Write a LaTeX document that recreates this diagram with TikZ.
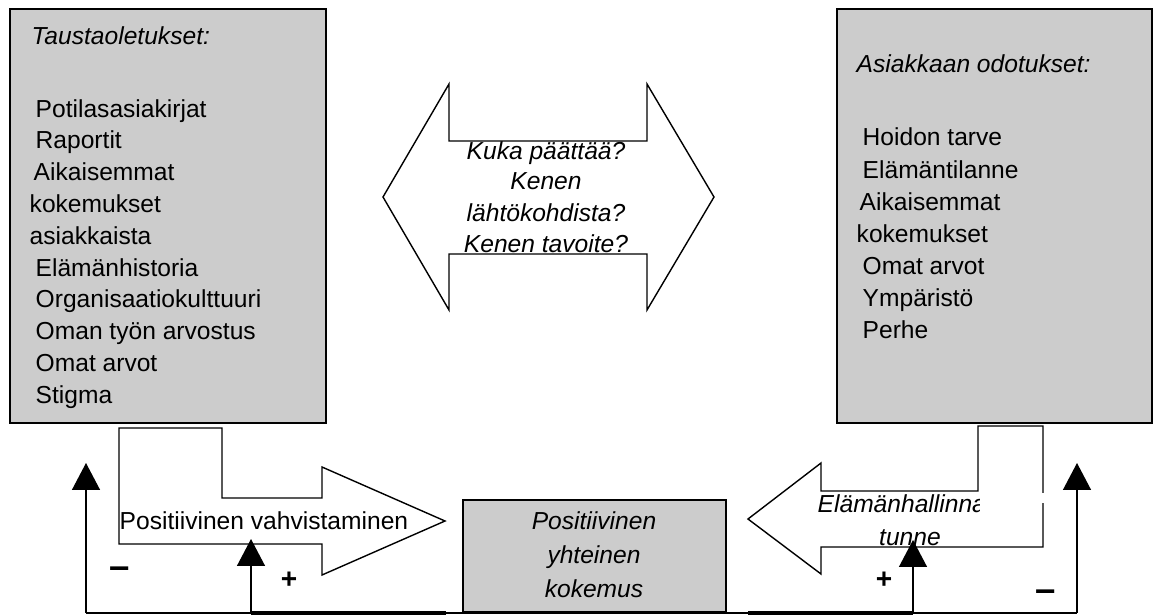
\documentclass[tikz,border=0pt]{standalone}
\usepackage{fontspec}
\setmainfont{Liberation Sans}
\usepackage{tikz}
\usetikzlibrary{arrows.meta}
\definecolor{boxgray}{RGB}{204,204,204}
\newcommand{\fbarrow}[2]{
    \draw[fbline, -{Triangle[length=0.54cm, width=0.56cm]}] (#1) -- (#2);
}

\begin{document}
\begin{tikzpicture}[x=0.02cm, y=-0.02cm, line width=0.8pt,
        txt/.style={inner sep=0pt, anchor=base west, font=\fontsize{14}{17}\selectfont},
        ctxt/.style={txt, anchor=base},
        itx/.style={txt, font=\fontsize{14}{17}\selectfont\itshape},
        citx/.style={itx, anchor=base},
        graybox/.style={draw=black, fill=boxgray},
        bigarrow/.style={draw=black, fill=white, line join=miter},
        fbline/.style={draw=black, line width=0.8pt},
        thickseg/.style={draw=black, line width=2.3pt},
        sign/.style={inner sep=0pt, font=\fontsize{16}{18}\selectfont\bfseries}]
                \useasboundingbox (0,0) rectangle (1153,615);
                \draw[graybox] (10,9) rectangle (326,423);
                \node[itx] (taust) at (31,45) {Taustaoletukset:};
                \foreach \dx/\item [count=\i from 0] in {6/Potilasasiakirjat, 6/Raportit, 4/Aikaisemmat, 0/kokemukset, 0/asiakkaista, 6/Elämänhistoria, 6/Organisaatiokulttuuri, 6/Oman työn arvostus, 6/Omat arvot, 6/Stigma}
                    \node[txt] (tl\i) at (29+\dx, 117+31.8*\i) {\item};
                \draw[graybox] (837,9) rectangle (1152,423);
                \node[itx] (odot) at (856,73) {Asiakkaan odotukset:};
                \foreach \dx/\item [count=\i from 0] in {6/Hoidon tarve, 6/Elämäntilanne, 3/Aikaisemmat, 0/kokemukset, 6/Omat arvot, 6/Ympäristö, 6/Perhe}
                    \node[txt] (od\i) at (856+\dx, 146+32*\i) {\item};
                \draw[bigarrow] (383,197) -- (449,84) -- (449,141) -- (647,141) -- (647,84) -- (714,197)
                    -- (647,310) -- (647,254) -- (449,254) -- (449,310) -- cycle;
                \node[citx] (kuka) at (546,159) {Kuka päättää?};
                \node[citx] (kenen) at (546,190) {Kenen};
                \node[citx] (lahto) at (546,221) {lähtökohdista?};
                \node[citx] (tavoite) at (546,252) {Kenen tavoite?};
                \coordinate (fbL) at (86,613);
                \coordinate (fbR) at (1077,613);
                \coordinate (pL) at (251,613);
                \coordinate (pLe) at (446,613);
                \coordinate (pRs) at (748,613);
                \coordinate (pR) at (913,613);
                \draw[fbline] (fbL) -- (fbR);
                \draw[thickseg] (pL) -- (pLe);
                \draw[thickseg] (pRs) -- (pR);
                \draw[bigarrow] (119,428) -- (222,428) -- (222,498) -- (322,498) -- (322,467) -- (445,521)
                    -- (322,575) -- (322,544) -- (119,544) -- cycle;
                \node[txt] (vahv) at (119,529) {Positiivinen vahvistaminen};
                \draw[bigarrow] (978,426) -- (1043,426) -- (1043,547) -- (821,547) -- (821,574) -- (748,519)
                    -- (821,463) -- (821,491) -- (978,491) -- cycle;
                \fill[white] (979,492.5) rectangle (1046,503);
                \begin{scope}
                    \clip (800,480) rectangle (979,520);
                    \node[itx] (elam) at (817,512) {Elämänhallinnan};
                \end{scope}
                \node[citx] (tunne) at (910,545) {tunne};
                \draw[graybox] (463,500) rectangle (726,612);
                \node[citx] (pos) at (594,529) {Positiivinen};
                \node[citx] (yht) at (594,563) {yhteinen};
                \node[citx] (kok) at (594,597) {kokemus};
                \coordinate (tipL) at (86,463);
                \coordinate (tipl) at (251,539);
                \coordinate (tipr) at (913,540);
                \coordinate (tipR) at (1077,463);
                \fbarrow{fbL}{tipL}
                \fbarrow{pL}{tipl}
                \fbarrow{pR}{tipr}
                \fbarrow{fbR}{tipR}
                \node[sign, scale=1.3] (minL) at (120,573) {–};
                \node[sign] (plusL) at (289,580) {+};
                \node[sign] (plusR) at (884,580) {+};
                \node[sign, scale=1.3] (minR) at (1046,596) {–};
\end{tikzpicture}
\end{document}
